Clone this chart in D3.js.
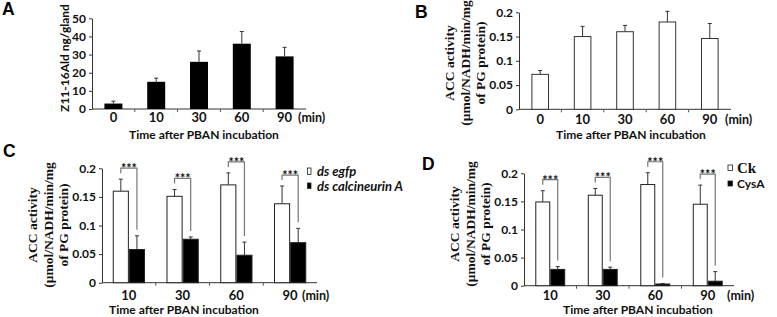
<!DOCTYPE html>
<html>
<head>
<meta charset="utf-8">
<script src="https://cdn.jsdelivr.net/npm/d3@7"></script>
<style>
  body { margin: 0; background: #fff; }
  svg { display: block; }
  .sans { font-family: Lato, "Open Sans", sans-serif; font-weight: bold; fill: #111; }
  .serif { font-family: "Liberation Serif", "Times New Roman", serif; font-weight: bold; fill: #111; }
  .letter { font-family: "Liberation Sans", Arial, sans-serif; font-weight: bold; font-size: 17.5px; fill: #000; }
  .yaxis text { font-family: Lato, sans-serif; font-weight: bold; font-size: 12px; fill: #111; }
  .yaxis path, .yaxis line { stroke: #333; }
</style>
</head>
<body>
<svg id="fig" width="777" height="317"></svg>
<script>
// ---- data ----
const timesA = ["0", "10", "30", "60", "90"];
const aldMean = [3, 15, 26, 36, 29];
const aldErr = [1.3, 2, 6, 6.7, 5];

const timesB = ["0", "10", "30", "60", "90"];
const accMean = [0.072, 0.15, 0.16, 0.18, 0.146];
const accErr = [0.008, 0.021, 0.013, 0.022, 0.031];

const timesCD = ["10", "30", "60", "90"];
const egfpMean = [0.16, 0.151, 0.171, 0.138];
const egfpErr = [0.021, 0.012, 0.021, 0.031];
const calcMean = [0.058, 0.076, 0.048, 0.07];
const calcErr = [0.024, 0.004, 0.023, 0.025];

const ckMean = [0.149, 0.161, 0.18, 0.145];
const ckErr = [0.02, 0.012, 0.021, 0.034];
const cysMean = [0.029, 0.029, 0.003, 0.008];
const cysErr = [0.005, 0.004, 0.001, 0.017];

const ticksAld = [0, 10, 20, 30, 40, 50];
const ticksAcc = [0, 0.05, 0.1, 0.15, 0.2];
const legendC = ["ds egfp", "ds calcineurin A"];
const legendD = ["Ck", "CysA"];
const accLabel = ["ACC activity", "(μmol/NADH/min/mg", "of PG protein)"];

const svg = d3.select("#fig");
const ERR = "#333", BRK = "#777";

function frame(cfg) {
  const g = svg.append("g");
  const y = d3.scaleLinear().domain([0, cfg.max]).range([cfg.y0, cfg.y1]);
  const x = d3.scaleBand().domain(cfg.cats).range([cfg.x0, cfg.x1])
    .paddingInner(cfg.pad).paddingOuter(cfg.pad / 2);

  g.append("g").attr("class", "yaxis")
    .attr("transform", `translate(${cfg.x0},0)`)
    .call(d3.axisLeft(y).tickValues(cfg.ticks).tickFormat(d3.format("~g"))
      .tickSize(3).tickSizeOuter(0).tickPadding(3));

  // x baseline + small ticks at group boundaries
  g.append("line").attr("x1", cfg.x0).attr("x2", cfg.x1)
    .attr("y1", cfg.y0).attr("y2", cfg.y0).attr("stroke", "#333");
  const gap = (x.step() - x.bandwidth()) / 2;
  g.selectAll("line.bt").data(cfg.cats.slice(1)).join("line").attr("class", "bt")
    .attr("x1", (d) => x(d) - gap).attr("x2", (d) => x(d) - gap)
    .attr("y1", cfg.y0).attr("y2", cfg.y0 + 3).attr("stroke", "#555");

  g.selectAll("text.xt").data(cfg.cats).join("text").attr("class", "xt sans")
    .attr("x", (d) => x(d) + x.bandwidth() / 2).attr("y", cfg.y0 + cfg.xdy)
    .attr("text-anchor", "middle").attr("font-size", 13).text((d) => d);
  g.append("text").attr("class", "sans").attr("font-size", 12.5)
    .attr("x", cfg.minX).attr("y", cfg.y0 + cfg.xdy).text("(min)");
  g.append("text").attr("class", "sans").attr("font-size", 12)
    .attr("x", cfg.titleX).attr("y", cfg.titleY).attr("text-anchor", "middle")
    .text("Time after PBAN incubation");

  g.append("text").attr("class", "letter")
    .attr("x", cfg.letterX).attr("y", cfg.letterY).text(cfg.letter);
  return { g, x, y };
}

function errBars(g, xs, y, mean, err) {
  mean.forEach((m, i) => {
    const cx = xs[i], top = y(m + err[i]);
    g.append("line").attr("x1", cx).attr("x2", cx).attr("y1", y(m)).attr("y2", top)
      .attr("stroke", ERR);
    g.append("line").attr("x1", cx - 2).attr("x2", cx + 2).attr("y1", top).attr("y2", top)
      .attr("stroke", ERR);
  });
}

function accYLabel(g, axisX, cy) {
  const offs = [-70, -54, -39];
  accLabel.forEach((t, k) => {
    g.append("text").attr("class", "serif").attr("font-size", 13.5)
      .attr("transform", `translate(${axisX + offs[k]},${cy}) rotate(-90)`)
      .attr("text-anchor", "middle").attr("dy", "0.35em").text(t);
  });
}

// ---- A ----
(function () {
  const { g, x, y } = frame({
    cats: timesA, max: 50, ticks: ticksAld, x0: 92, x1: 306, y0: 109, y1: 18.3, pad: 0.58,
    xdy: 13, minX: 298, titleX: 204, titleY: 139, letter: "A", letterX: 2, letterY: 15,
  });
  g.selectAll("rect.bar").data(aldMean).join("rect").attr("class", "bar")
    .attr("x", (d, i) => x(timesA[i])).attr("width", x.bandwidth())
    .attr("y", (d) => y(d)).attr("height", (d) => y(0) - y(d)).attr("fill", "#000");
  errBars(g, timesA.map((t) => x(t) + x.bandwidth() / 2), y, aldMean, aldErr);
  g.append("text").attr("class", "sans").attr("font-size", 12)
    .attr("transform", `translate(65,58) rotate(-90)`).attr("dy", "0.35em")
    .attr("text-anchor", "middle").text("Z11-16Ald ng/gland");
})();

// ---- B ----
(function () {
  const { g, x, y } = frame({
    cats: timesB, max: 0.2, ticks: ticksAcc, x0: 519, x1: 731, y0: 109.3, y1: 12.3, pad: 0.585,
    xdy: 14.5, minX: 725, titleX: 631, titleY: 139, letter: "B", letterX: 415, letterY: 18,
  });
  g.selectAll("rect.bar").data(accMean).join("rect").attr("class", "bar")
    .attr("x", (d, i) => x(timesB[i]) + 0.5).attr("width", x.bandwidth() - 1)
    .attr("y", (d) => y(d)).attr("height", (d) => y(0) - y(d))
    .attr("fill", "#fff").attr("stroke", "#333");
  errBars(g, timesB.map((t) => x(t) + x.bandwidth() / 2), y, accMean, accErr);
  accYLabel(g, 519, 63);
})();

// ---- paired panels C & D ----
function paired(cfg, aMean, aErr, bMean, bErr, legend, legendCfg) {
  const { g, x, y } = frame(cfg);
  const xi = d3.scaleBand().domain([0, 1]).range([0, x.bandwidth()]);
  const series = [[aMean, aErr, "#fff"], [bMean, bErr, "#000"]];
  series.forEach(([m, e, fill], s) => {
    g.selectAll(`rect.s${s}`).data(m).join("rect").attr("class", `s${s}`)
      .attr("x", (d, i) => x(timesCD[i]) + xi(s) + 0.5).attr("width", xi.bandwidth() - 1)
      .attr("y", (d) => y(d)).attr("height", (d) => y(0) - y(d))
      .attr("fill", fill).attr("stroke", "#222");
    errBars(g, timesCD.map((t) => x(t) + xi(s) + xi.bandwidth() / 2), y, m, e);
  });
  // significance brackets
  timesCD.forEach((t, i) => {
    const wx = x(t) + xi(0) + xi.bandwidth() / 2;
    const bx = x(t) + xi(1) + xi.bandwidth() / 2;
    const top = y(aMean[i] + aErr[i]) - 11;
    const bot = y(bMean[i] + bErr[i]) - 6;
    g.append("path").attr("fill", "none").attr("stroke", BRK).attr("stroke-width", 1.2)
      .attr("d", `M${wx},${top + 5}V${top}H${bx}V${bot}`);
    g.append("text").attr("class", "sans").attr("font-size", 12.5).attr("font-weight", "normal")
      .attr("x", (wx + bx) / 2).attr("y", top + 5).attr("text-anchor", "middle").text("***");
  });
  // legend
  legend.forEach((t, k) => {
    const L = legendCfg[k];
    g.append("rect").attr("x", L.rx).attr("y", L.ry).attr("width", L.rw).attr("height", L.rh)
      .attr("fill", k === 0 ? "#fff" : "#000").attr("stroke", "#222").attr("stroke-width", 0.8);
    g.append("text").attr("class", L.cls).attr("font-size", L.fs)
      .attr("font-style", L.italic ? "italic" : "normal")
      .attr("x", L.tx).attr("y", L.ty).attr("dy", "0.35em").text(t);
  });
  accYLabel(g, cfg.x0, cfg.labelY);
}

paired({
  cats: timesCD, max: 0.2, ticks: ticksAcc, x0: 102, x1: 317, y0: 282.7, y1: 168.3, pad: 0.4,
  xdy: 17, minX: 302, titleX: 184, titleY: 314, letter: "C", letterX: 3, letterY: 157, labelY: 225,
}, egfpMean, egfpErr, calcMean, calcErr, legendC, [
  { rx: 307.5, ry: 168, rw: 3.5, rh: 6.5, tx: 317, ty: 171.5, cls: "sans", fs: 13, italic: true },
  { rx: 307.5, ry: 183, rw: 3.5, rh: 5.5, tx: 317, ty: 186, cls: "sans", fs: 13, italic: true },
]);

paired({
  cats: timesCD, max: 0.2, ticks: ticksAcc, x0: 524, x1: 734, y0: 285.7, y1: 173.3, pad: 0.43,
  xdy: 14.5, minX: 727, titleX: 638, titleY: 314, letter: "D", letterX: 422, letterY: 170, labelY: 224,
}, ckMean, ckErr, cysMean, cysErr, legendD, [
  { rx: 728, ry: 165, rw: 4.5, rh: 5.5, tx: 737, ty: 168, cls: "serif", fs: 15, italic: false },
  { rx: 728, ry: 181, rw: 4.5, rh: 5, tx: 737, ty: 184, cls: "sans", fs: 12, italic: false },
]);
</script>
</body>
</html>
